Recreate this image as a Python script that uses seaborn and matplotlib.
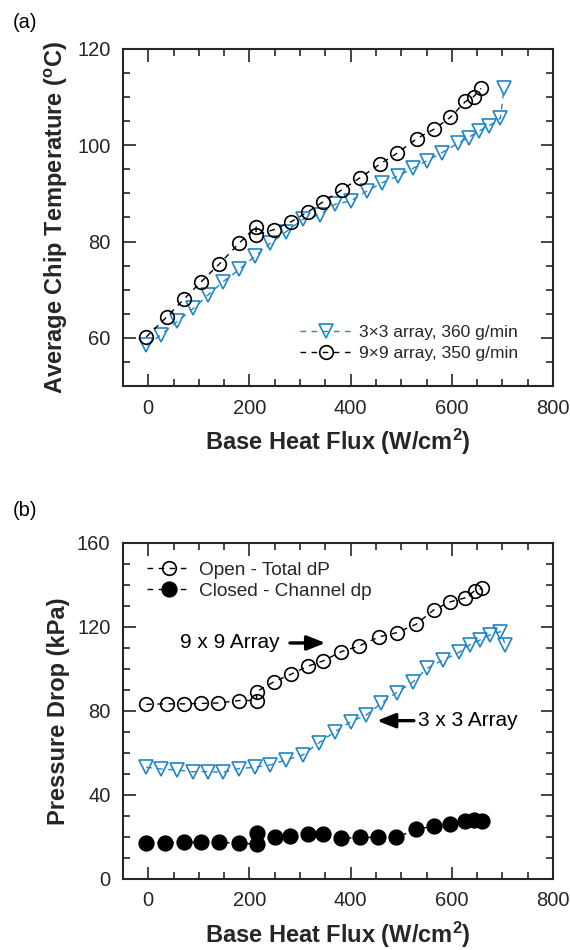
import numpy as np
import pandas as pd
import matplotlib
matplotlib.use("Agg")
import matplotlib.pyplot as plt
import seaborn as sns
from matplotlib.ticker import MultipleLocator

# ---------------- data ----------------
# Panel (a): average chip temperature
a3_flux = [-4, 25, 57, 89, 118, 148, 180, 211, 241, 272, 305, 339, 370, 400, 432,
           462, 493, 523, 551, 581, 612, 633, 654, 673, 696, 703]
a3_temp = [58.5, 60.6, 63.4, 66.1, 68.9, 71.7, 74.2, 77.0, 79.6, 82.0, 84.6, 85.6,
           87.8, 88.4, 90.5, 92.2, 93.6, 95.2, 96.8, 98.5, 100.4, 101.6, 103.0,
           104.0, 105.6, 111.8]
a9_flux = [-4, 36, 71, 105, 140, 179, 213, 213, 249, 282, 316, 346, 382, 419, 458,
           491, 531, 564, 597, 627, 643, 658]
a9_temp = [60.2, 64.3, 68.1, 71.7, 75.3, 79.6, 83.1, 81.4, 82.5, 84.1, 86.2, 88.3,
           90.7, 93.3, 96.1, 98.3, 101.4, 103.3, 105.8, 109.1, 110.1, 111.8]

# Panel (b): pressure drop
b_open_flux = [-4, 36, 71, 104, 138, 180, 214, 214, 249, 283, 316, 346, 381, 417,
               457, 491, 530, 564, 597, 627, 645, 660]
b_open_dp = [83.2, 83.4, 83.4, 83.6, 83.8, 85.0, 85.0, 89.2, 94.0, 97.6, 101.4,
             103.9, 108.2, 111.0, 115.4, 117.3, 121.4, 128.1, 132.0, 133.9, 137.2,
             138.4]
b3_flux = [-4, 25, 56, 88, 118, 148, 180, 211, 241, 272, 305, 338, 369, 400, 431,
           460, 491, 523, 551, 583, 614, 635, 656, 675, 696, 706]
b3_dp = [53.2, 52.4, 51.9, 51.1, 51.1, 50.8, 52.6, 53.2, 54.3, 56.7, 59.0, 65.0,
         70.1, 74.9, 78.1, 83.6, 88.8, 93.8, 100.3, 104.3, 107.9, 111.4, 113.8,
         116.2, 117.8, 111.4]
b_closed_flux = [-4, 33, 71, 104, 140, 179, 214, 214, 250, 280, 316, 345, 381, 419,
                 455, 490, 530, 564, 596, 627, 643, 660]
b_closed_dp = [17.3, 17.3, 17.5, 17.5, 17.5, 17.0, 16.7, 21.7, 20.1, 20.6, 21.4,
               21.2, 19.3, 19.8, 19.8, 19.8, 23.6, 25.2, 26.0, 27.7, 28.1, 27.7]

legend_a = ["3\u00d73 array, 360 g/min", "9\u00d79 array, 350 g/min"]
legend_b = ["Open - Total dP", "Closed - Channel dp"]

# ---------------- style ----------------
sns.set_theme(style="ticks")
plt.rcParams["font.family"] = ["Liberation Sans", "DejaVu Sans"]
plt.rcParams["mathtext.fontset"] = "custom"
plt.rcParams["mathtext.rm"] = "Liberation Sans"
plt.rcParams["mathtext.bf"] = "Liberation Sans:bold"
plt.rcParams["mathtext.it"] = "Liberation Sans:italic"

BLUE = "#2185C5"
DARK = "#262626"

fig = plt.figure(figsize=(5.7, 9.5), dpi=100)
ax1 = fig.add_axes([123 / 570, 1 - 386 / 950, 430 / 570, 337 / 950])
ax2 = fig.add_axes([123 / 570, 1 - 879 / 950, 430 / 570, 336 / 950])


def series(ax, x, y, marker, color, filled, label=None, ms=9.8):
    df = pd.DataFrame({"x": x, "y": y})
    kw = dict(data=df, x="x", y="y", ax=ax, sort=False, estimator=None,
              linestyle=(0, (4, 4)), lw=1.0, color=color, marker=marker,
              markersize=ms, markeredgecolor=color,
              markerfacecolor=color if filled else "none",
              markeredgewidth=1.2)
    if label is not None:
        kw["label"] = label
    sns.lineplot(**kw)


series(ax1, a3_flux, a3_temp, "v", BLUE, False, legend_a[0])
series(ax1, a9_flux, a9_temp, "o", "black", False, legend_a[1])

series(ax2, b_open_flux, b_open_dp, "o", "black", False, legend_b[0])
series(ax2, b_closed_flux, b_closed_dp, "o", "black", True, legend_b[1], ms=10.5)
series(ax2, b3_flux, b3_dp, "v", BLUE, False)

for ax in (ax1, ax2):
    ax.set_xlim(-50, 800)
    ax.xaxis.set_major_locator(MultipleLocator(200))
    ax.xaxis.set_minor_locator(MultipleLocator(50))
    ax.tick_params(which="both", direction="in", top=True, right=True,
                   color=DARK, width=1.2)
    ax.tick_params(which="major", length=9, labelsize=14.5, labelcolor=DARK, pad=9)
    ax.tick_params(which="minor", length=5)
    for s in ax.spines.values():
        s.set_linewidth(1.5)
        s.set_color(DARK)
        s.set_visible(True)
    ax.set_xlabel("Base Heat Flux (W/cm$^\\mathbf{2}$)", fontsize=17,
                  fontweight="bold", color=DARK, labelpad=7)

ax1.set_ylim(50, 120)
ax1.yaxis.set_major_locator(MultipleLocator(20))
ax1.yaxis.set_minor_locator(MultipleLocator(5))
ax1.set_ylabel("Average Chip Temperature ($^\\mathbf{o}$C)", fontsize=17,
               fontweight="bold", color=DARK, labelpad=5)

ax2.set_ylim(0, 160)
ax2.yaxis.set_major_locator(MultipleLocator(40))
ax2.yaxis.set_minor_locator(MultipleLocator(10))
ax2.set_ylabel("Pressure Drop (kPa)", fontsize=17, fontweight="bold",
               color=DARK, labelpad=5)

# legends
leg1 = ax1.legend(loc="upper left", bbox_to_anchor=(0.412, 0.18), frameon=False,
                  fontsize=12.5, handlelength=3.0, handletextpad=0.4,
                  labelspacing=0.3, borderpad=0, borderaxespad=0, numpoints=1)
for t in leg1.get_texts():
    t.set_color(DARK)
leg2 = ax2.legend(loc="upper left", bbox_to_anchor=(0.056, 0.945), frameon=False,
                  fontsize=13.7, handlelength=2.3, handletextpad=0.42,
                  labelspacing=0.2, borderpad=0, borderaxespad=0, numpoints=1)
for t in leg2.get_texts():
    t.set_color(DARK)

# annotations
arrow_kw = dict(arrowstyle="-|>,head_length=0.55,head_width=0.22", color="black",
                lw=2.4, shrinkA=0, shrinkB=0, mutation_scale=20)
ax2.text(260, 112.4, "9 x 9 Array", ha="right", va="center", fontsize=15,
         color="black")
ax2.annotate("", xy=(350, 112.4), xytext=(280, 112.4), arrowprops=arrow_kw)
ax2.text(534, 75.4, "3 x 3 Array", ha="left", va="center", fontsize=15,
         color="black")
ax2.annotate("", xy=(452, 75.4), xytext=(525, 75.4), arrowprops=arrow_kw)

fig.text(25 / 570, 1 - 23 / 950, "(a)", ha="center", va="center", fontsize=14.5,
         color="black")
fig.text(25 / 570, 1 - 510 / 950, "(b)", ha="center", va="center", fontsize=14.5,
         color="black")

fig.savefig("out.png", dpi=100)
